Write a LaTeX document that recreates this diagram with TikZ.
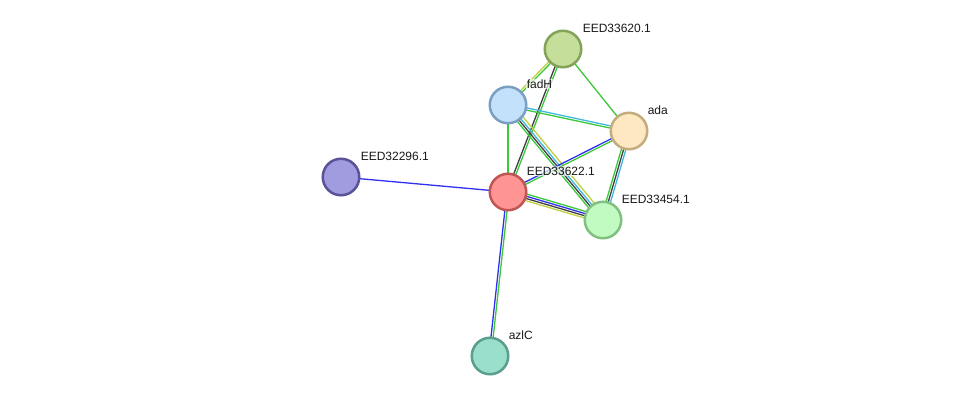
\documentclass[tikz,border=0pt]{standalone}
\usepackage{fontspec}
\setmainfont{Liberation Sans}
\usetikzlibrary{calc,backgrounds}
\definecolor{cgreen}{HTML}{3BC83B}
\definecolor{cblue}{HTML}{3030F0}
\definecolor{cblack}{HTML}{404040}
\definecolor{ccyan}{HTML}{40B8E0}
\definecolor{cyellow}{HTML}{C0D040}
\tikzset{
  prot/.style={circle, minimum size=36.5pt, inner sep=0pt, line width=2.5pt},
  lbl/.style={anchor=base west, font=\fontsize{12pt}{14pt}\selectfont, inner sep=0.6pt, text=black!90, fill=white, fill opacity=0.65, text opacity=1},
  ln/.style={line width=1.3pt}
}
\newcommand\stredge[3]{%
  \foreach \o/\c in {#3} {%
    \draw[ln, \c] ($(#1.center)!\o!90:(#2.center)$) -- ($(#2.center)!\o!-90:(#1.center)$);
  }%
}
\begin{document}
\begin{tikzpicture}[x=1pt, y=-1pt]
\useasboundingbox (0,0) rectangle (975,402);
% nodes
\node[prot, draw={rgb,255:red,132;green,163;blue,90}, fill={rgb,255:red,197;green,222;blue,154}] (n620) at (563,49) {};
\node[prot, draw={rgb,255:red,122;green,159;blue,194}, fill={rgb,255:red,195;green,225;blue,251}] (fadH) at (508,105) {};
\node[prot, draw={rgb,255:red,195;green,173;blue,126}, fill={rgb,255:red,253;green,232;blue,194}] (ada) at (629,131) {};
\node[prot, draw={rgb,255:red,192;green,85;blue,85}, fill={rgb,255:red,254;green,148;blue,148}] (n622) at (508,192) {};
\node[prot, draw={rgb,255:red,128;green,192;blue,128}, fill={rgb,255:red,194;green,251;blue,194}] (n454) at (603,220) {};
\node[prot, draw={rgb,255:red,90;green,83;blue,153}, fill={rgb,255:red,161;green,155;blue,224}] (n296) at (341,177) {};
\node[prot, draw={rgb,255:red,90;green,158;blue,140}, fill={rgb,255:red,153;green,223;blue,204}] (azlC) at (490,356) {};
% labels
\node[lbl] (l620) at (582,32) {EED33620.1};
\node[lbl] (lfadH) at (526,88) {fadH};
\node[lbl] (lada) at (647,114) {ada};
\node[lbl] (l622) at (526,175) {EED33622.1};
\node[lbl] (l454) at (621,203) {EED33454.1};
\node[lbl] (l296) at (360,160) {EED32296.1};
\node[lbl] (lazlC) at (508,339) {azlC};
% edges
\begin{pgfonlayer}{background}
\stredge{n620}{fadH}{1.1pt/cgreen, -1.1pt/cyellow}
\stredge{n620}{n622}{1.1pt/cgreen, -1.1pt/cblack}
\stredge{n620}{ada}{0pt/cgreen}
\stredge{fadH}{ada}{1.1pt/ccyan, -1.1pt/cgreen}
\stredge{fadH}{n454}{4pt/cyellow, 1.1pt/ccyan, -1.1pt/cblack, -3.3pt/cgreen}
\stredge{fadH}{n622}{0pt/cgreen}
\stredge{n622}{ada}{1.1pt/cblue, -1.1pt/cgreen}
\stredge{ada}{n454}{2.2pt/ccyan, 0pt/cblack, -2.2pt/cgreen}
\stredge{n622}{n454}{3.3pt/cgreen, 1.1pt/cblue, -1.1pt/cblack, -3.3pt/cyellow}
\stredge{n622}{n296}{0pt/cblue}
\stredge{n622}{azlC}{-1.1pt/cblue, 1.1pt/cgreen}
\end{pgfonlayer}
\end{tikzpicture}
\end{document}
